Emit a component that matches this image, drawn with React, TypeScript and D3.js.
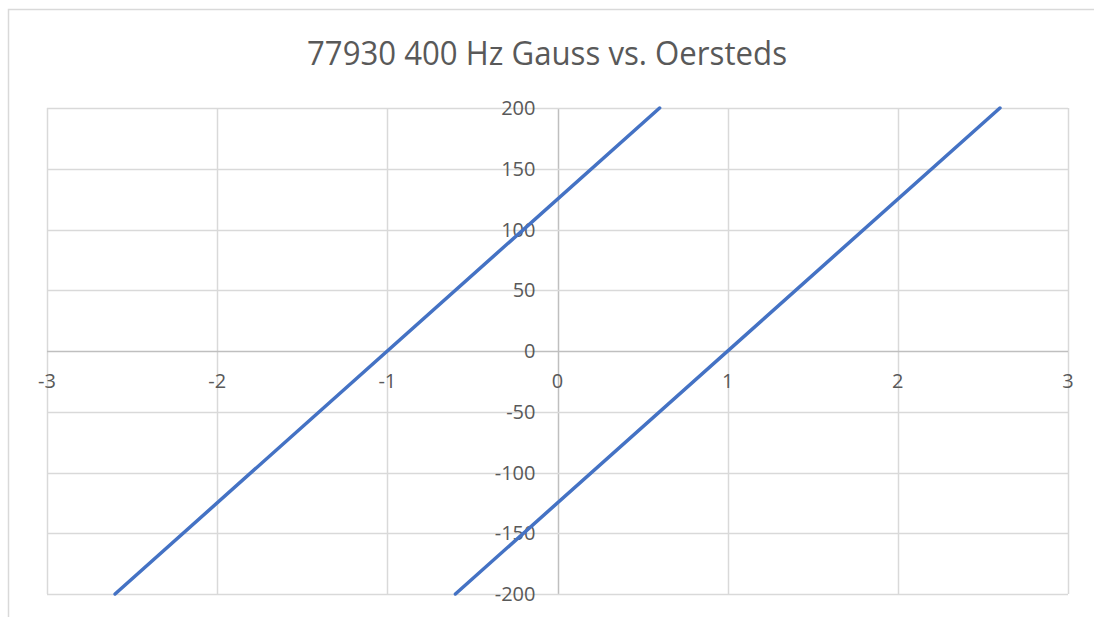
import { useEffect, useRef } from "react";
import * as d3 from "d3";

const TITLE = "77930 400 Hz Gauss vs. Oersteds";

const xTicks = [-3, -2, -1, 0, 1, 2, 3];
const yTicks = [-200, -150, -100, -50, 0, 50, 100, 150, 200];

// two straight branches (Oersteds, Gauss)
const branchA_x = [-2.6, 0.6];
const branchA_y = [-200, 200];
const branchB_x = [-0.6, 2.6];
const branchB_y = [-200, 200];

const W = 1094;
const H = 617;

const App = () => {
  const ref = useRef<SVGSVGElement | null>(null);

  useEffect(() => {
    drawChart();
  }, []);

  const drawChart = () => {
    const svg = d3.select(ref.current);
    svg.selectAll("*").remove();

    const plot = { left: 47, right: 1068, top: 108, bottom: 594 };
    const font = "'Open Sans', 'Noto Sans', sans-serif";
    const textColor = "#595959";

    // outer chart border
    svg
      .append("rect")
      .attr("x", 8.5)
      .attr("y", 9.5)
      .attr("width", W)
      .attr("height", H)
      .attr("fill", "#fff")
      .attr("stroke", "#d9d9d9")
      .attr("stroke-width", 1.5);

    svg
      .append("text")
      .attr("x", 547)
      .attr("y", 65)
      .attr("text-anchor", "middle")
      .attr("font-family", font)
      .attr("font-size", 33)
      .attr("fill", textColor)
      .attr("textLength", 480)
      .attr("lengthAdjust", "spacingAndGlyphs")
      .text(TITLE);

    const xScale = d3.scaleLinear().domain([-3, 3]).range([plot.left, plot.right]);
    const yScale = d3.scaleLinear().domain([-200, 200]).range([plot.bottom, plot.top]);

    // grid
    const grid = svg.append("g");
    grid
      .selectAll("line.v")
      .data(xTicks)
      .join("line")
      .attr("x1", (d) => Math.round(xScale(d)) + 0.5)
      .attr("x2", (d) => Math.round(xScale(d)) + 0.5)
      .attr("y1", plot.top)
      .attr("y2", plot.bottom)
      .attr("stroke", (d) => (d === 0 ? "#bfbfbf" : "#d9d9d9"))
      .attr("stroke-width", 1.5);
    grid
      .selectAll("line.h")
      .data(yTicks)
      .join("line")
      .attr("x1", plot.left)
      .attr("x2", plot.right)
      .attr("y1", (d) => Math.round(yScale(d)) + 0.5)
      .attr("y2", (d) => Math.round(yScale(d)) + 0.5)
      .attr("stroke", (d) => (d === 0 ? "#bfbfbf" : "#d9d9d9"))
      .attr("stroke-width", 1.5);

    // y labels sit against the vertical axis at x = 0
    svg
      .append("g")
      .selectAll("text")
      .data(yTicks)
      .join("text")
      .attr("x", xScale(0) - 22)
      .attr("y", (d) => yScale(d))
      .attr("dy", "0.35em")
      .attr("text-anchor", "end")
      .attr("font-family", font)
      .attr("font-size", 20)
      .attr("fill", textColor)
      .text((d) => d);

    // x labels below the horizontal axis
    svg
      .append("g")
      .selectAll("text")
      .data(xTicks)
      .join("text")
      .attr("x", (d) => xScale(d))
      .attr("y", yScale(0) + 37)
      .attr("text-anchor", "middle")
      .attr("font-family", font)
      .attr("font-size", 20)
      .attr("fill", textColor)
      .text((d) => d);

    const line = d3
      .line<[number, number]>()
      .x((d) => xScale(d[0]))
      .y((d) => yScale(d[1]));

    const series = [
      d3.zip(branchA_x, branchA_y) as [number, number][],
      d3.zip(branchB_x, branchB_y) as [number, number][],
    ];

    svg
      .append("g")
      .selectAll("path")
      .data(series)
      .join("path")
      .attr("d", (d) => line(d))
      .attr("fill", "none")
      .attr("stroke", "#4472c4")
      .attr("stroke-width", 3.5)
      .attr("stroke-linecap", "round");
  };

  return (
    <svg
      ref={ref}
      width={W}
      height={H}
      style={{ position: "absolute", left: 0, top: 0, display: "block" }}
    />
  );
};

export default App;
